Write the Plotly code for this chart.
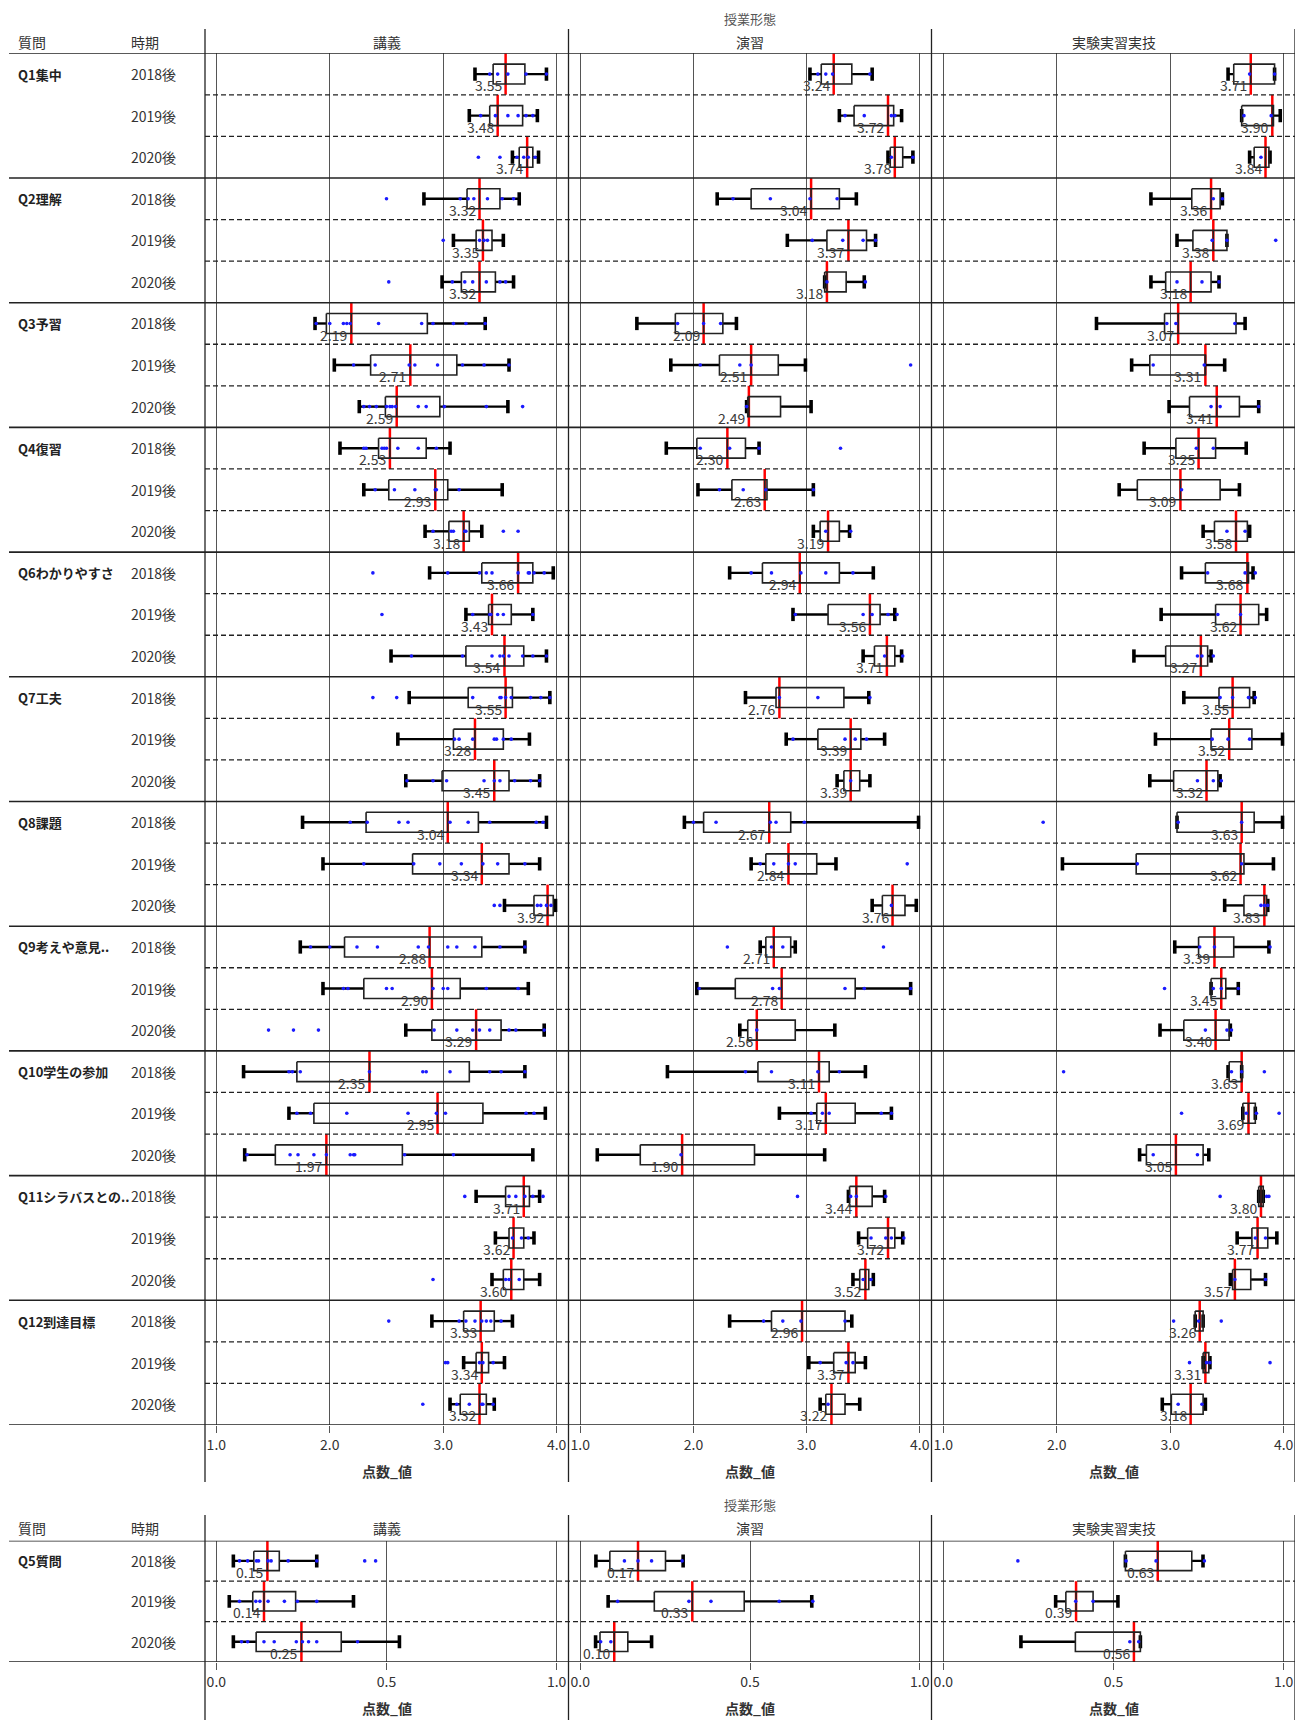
import plotly.graph_objects as go

# page body has an 8px margin, so the figure is drawn 8px in from the top-left corner
OFF = 8
W, H = 1303 - OFF, 1720 - OFF

# ---------------- labels ----------------
panel_names = ["講義", "演習", "実験実習実技"]
periods = ["2018後", "2019後", "2020後"]
questions = ["Q1集中", "Q2理解", "Q3予習", "Q4復習", "Q6わかりやすさ", "Q7工夫",
             "Q8課題", "Q9考えや意見..", "Q10学生の参加", "Q11シラバスとの..", "Q12到達目標"]
q5_name = "Q5質問"
top_ticks = [1.0, 2.0, 3.0, 4.0]
top_ticktext = ["1.0", "2.0", "3.0", "4.0"]
bot_ticks = [0.0, 0.5, 1.0]
bot_ticktext = ["0.0", "0.5", "1.0"]
axis_title = "点数_値"
super_title = "授業形態"

# ---------------- 講義 (top) ----------------
kogi_lo = [3.28, 3.23, 3.61, 2.83, 3.09, 2.99, 1.87, 2.04, 2.26, 2.09, 2.30, 2.84, 2.88, 3.20, 2.54, 2.70,
           2.60, 2.67, 1.76, 1.94, 3.54, 1.74, 1.94, 2.67, 1.24, 1.64, 1.25, 3.29, 3.46, 3.43, 2.90, 3.18, 3.06]
kogi_q1 = [3.44, 3.41, 3.67, 3.21, 3.29, 3.16, 1.97, 2.36, 2.49, 2.43, 2.52, 3.05, 3.34, 3.40, 3.20, 3.22,
           3.09, 2.99, 2.32, 2.73, 3.80, 2.13, 2.30, 2.90, 1.71, 1.86, 1.52, 3.55, 3.58, 3.53, 3.18, 3.29, 3.15]
kogi_med = [3.55, 3.48, 3.74, 3.32, 3.35, 3.32, 2.19, 2.71, 2.59, 2.53, 2.93, 3.18, 3.66, 3.43, 3.54, 3.55,
            3.28, 3.45, 3.04, 3.34, 3.92, 2.88, 2.90, 3.29, 2.35, 2.95, 1.97, 3.71, 3.62, 3.60, 3.33, 3.34, 3.32]
kogi_q3 = [3.72, 3.70, 3.79, 3.50, 3.43, 3.46, 2.86, 3.12, 2.97, 2.85, 3.04, 3.23, 3.79, 3.60, 3.71, 3.61,
           3.53, 3.58, 3.31, 3.58, 3.97, 3.34, 3.15, 3.51, 3.23, 3.35, 2.64, 3.76, 3.71, 3.71, 3.45, 3.40, 3.38]
kogi_hi = [3.91, 3.83, 3.84, 3.67, 3.53, 3.62, 3.37, 3.58, 3.57, 3.06, 3.52, 3.34, 3.97, 3.79, 3.91, 3.94,
           3.76, 3.85, 3.91, 3.85, 3.99, 3.72, 3.75, 3.89, 3.72, 3.90, 3.79, 3.85, 3.80, 3.85, 3.61, 3.54, 3.45]
kogi_dots = [
    [3.41, 3.48, 3.57, 3.73, 3.91],
    [3.33, 3.46, 3.57, 3.66, 3.73, 3.79],
    [3.31, 3.50, 3.65, 3.71, 3.75, 3.81],
    [2.50, 3.15, 3.22, 3.27, 3.39, 3.52, 3.62],
    [3.00, 3.32, 3.36, 3.39],
    [2.52, 3.08, 3.19, 3.26, 3.38, 3.50, 3.55],
    [1.88, 2.00, 2.12, 2.15, 2.18, 2.43, 2.81, 2.91, 3.09, 3.20, 3.37],
    [2.21, 2.40, 2.70, 2.75, 2.95, 3.17, 3.36, 3.58],
    [2.30, 2.35, 2.41, 2.50, 2.53, 2.55, 2.58, 2.78, 2.85, 3.01, 3.38, 3.70],
    [2.30, 2.32, 2.46, 2.48, 2.50, 2.60, 2.78, 2.94],
    [2.40, 2.57, 2.75, 2.93, 2.94, 3.14],
    [2.91, 3.07, 3.09, 3.19, 3.20, 3.53, 3.66],
    [2.38, 3.04, 3.32, 3.38, 3.43, 3.66, 3.75, 3.76, 3.80, 3.89],
    [2.46, 3.26, 3.41, 3.42, 3.48, 3.53, 3.79],
    [2.72, 3.17, 3.43, 3.50, 3.53, 3.58, 3.70, 3.79, 3.91],
    [2.38, 2.59, 3.26, 3.50, 3.51, 3.55, 3.60, 3.77, 3.86, 3.94],
    [3.10, 3.14, 3.26, 3.45, 3.47, 3.53, 3.60],
    [2.68, 2.91, 3.03, 3.36, 3.45, 3.50, 3.63, 3.77, 3.85],
    [2.18, 2.33, 2.61, 2.69, 3.06, 3.22, 3.41, 3.82, 3.88],
    [2.30, 2.74, 2.97, 3.16, 3.35, 3.48, 3.72],
    [3.45, 3.50, 3.83, 3.86, 3.91, 3.95],
    [1.83, 2.00, 2.24, 2.42, 2.78, 2.87, 3.04, 3.12, 3.28, 3.50, 3.72],
    [2.12, 2.16, 2.50, 2.55, 2.91, 3.00, 3.04, 3.38, 3.66],
    [1.46, 1.68, 1.90, 2.92, 3.12, 3.26, 3.32, 3.41, 3.58, 3.64, 3.89],
    [1.64, 1.67, 1.74, 2.35, 2.82, 2.85, 3.06, 3.41, 3.51, 3.72],
    [1.71, 1.83, 2.15, 2.69, 2.94, 3.02, 3.73, 3.80],
    [1.27, 1.65, 1.72, 1.86, 1.97, 2.18, 2.21, 2.22, 2.66, 3.09],
    [3.19, 3.58, 3.64, 3.72, 3.79, 3.88],
    [3.61, 3.69, 3.75],
    [2.91, 3.55, 3.58, 3.67],
    [2.52, 3.14, 3.20, 3.28, 3.34, 3.38, 3.42, 3.51],
    [3.02, 3.04, 3.32, 3.35, 3.44],
    [2.82, 3.12, 3.23, 3.34, 3.35, 3.44],
]

# ---------------- 演習 (top) ----------------
enshu_lo = [3.03, 3.29, 3.72, 2.21, 2.83, 3.16, 1.50, 1.80, 2.47, 1.76, 2.04, 3.06, 2.32, 2.88, 3.50, 2.46,
            2.82, 3.27, 1.92, 2.51, 3.58, 2.59, 2.03, 2.41, 1.77, 2.76, 1.15, 3.37, 3.46, 3.41, 2.32, 3.02, 3.12]
enshu_q1 = [3.13, 3.42, 3.74, 2.51, 3.18, 3.16, 1.84, 2.23, 2.48, 2.03, 2.34, 3.12, 2.61, 3.19, 3.60, 2.73,
            3.10, 3.33, 2.09, 2.64, 3.67, 2.64, 2.37, 2.48, 2.57, 3.09, 1.53, 3.38, 3.54, 3.47, 2.69, 3.24, 3.17]
enshu_med = [3.24, 3.72, 3.78, 3.04, 3.37, 3.18, 2.09, 2.51, 2.49, 2.30, 2.63, 3.19, 2.94, 3.56, 3.71, 2.76,
             3.39, 3.39, 2.67, 2.84, 3.76, 2.71, 2.78, 2.56, 3.11, 3.17, 1.90, 3.44, 3.72, 3.52, 2.96, 3.37, 3.22]
enshu_q3 = [3.40, 3.77, 3.85, 3.29, 3.53, 3.35, 2.26, 2.75, 2.77, 2.46, 2.65, 3.29, 3.29, 3.65, 3.78, 3.33,
            3.48, 3.47, 2.86, 3.09, 3.87, 2.86, 3.43, 2.90, 3.20, 3.43, 2.54, 3.58, 3.78, 3.55, 3.34, 3.43, 3.34]
enshu_hi = [3.58, 3.84, 3.94, 3.44, 3.61, 3.51, 2.38, 2.99, 3.04, 2.58, 3.06, 3.38, 3.59, 3.78, 3.84, 3.55,
            3.69, 3.56, 3.99, 3.26, 3.97, 2.90, 3.92, 3.25, 3.52, 3.75, 3.16, 3.69, 3.85, 3.59, 3.40, 3.52, 3.47]
enshu_dots = [
    [3.10, 3.17, 3.23, 3.56],
    [3.34, 3.51, 3.75, 3.78],
    [3.75, 3.94],
    [2.35, 2.68, 3.03, 3.27],
    [3.05, 3.32, 3.50, 3.61],
    [3.18, 3.52],
    [1.86, 2.09, 2.24],
    [2.06, 2.41, 2.51, 3.92],
    [2.47],
    [2.06, 2.32, 2.58, 3.30],
    [2.23, 2.44, 2.64, 3.06],
    [3.17, 3.39],
    [2.51, 2.69, 2.95, 3.17, 3.41],
    [2.90, 3.50, 3.58, 3.72, 3.80],
    [3.69, 3.85],
    [2.76, 3.10, 3.56],
    [2.88, 3.34, 3.43, 3.53],
    [3.39],
    [2.00, 2.20, 2.68, 2.73, 2.98],
    [2.59, 2.71, 2.84, 2.90, 3.89],
    [3.75],
    [2.30, 2.69, 2.79, 3.68],
    [2.05, 2.70, 2.76, 3.34, 3.51, 3.92],
    [2.56],
    [2.46, 2.69, 3.10, 3.29],
    [3.04, 3.14, 3.20, 3.66, 3.75],
    [1.89],
    [2.92, 3.39, 3.44, 3.70],
    [3.57, 3.70, 3.75, 3.86],
    [3.50, 3.57],
    [2.62, 2.79, 2.95, 3.34],
    [3.12, 3.35, 3.41],
    [3.19],
]

# ---------------- 実験実習実技 (top) ----------------
jikken_lo = [3.51, 3.63, 3.70, 2.83, 3.06, 2.83, 2.35, 2.66, 2.99, 2.77, 2.55, 3.29, 3.10, 2.92, 2.68, 3.12,
             2.87, 2.82, 3.06, 2.05, 3.48, 3.04, 3.36, 2.91, 3.51, 3.64, 2.73, 3.78, 3.59, 3.53, 3.22, 3.29, 2.93]
jikken_q1 = [3.56, 3.63, 3.74, 3.19, 3.20, 2.96, 2.95, 2.82, 3.17, 3.05, 2.71, 3.39, 3.31, 3.40, 2.96, 3.43,
             3.36, 3.03, 3.06, 2.70, 3.65, 3.25, 3.36, 3.12, 3.52, 3.64, 2.79, 3.78, 3.72, 3.55, 3.22, 3.29, 3.01]
jikken_med = [3.71, 3.90, 3.84, 3.36, 3.38, 3.18, 3.07, 3.31, 3.41, 3.25, 3.09, 3.58, 3.68, 3.62, 3.27, 3.55,
              3.52, 3.32, 3.63, 3.62, 3.83, 3.39, 3.45, 3.40, 3.63, 3.69, 3.05, 3.80, 3.77, 3.57, 3.26, 3.31, 3.18]
jikken_q3 = [3.92, 3.91, 3.87, 3.44, 3.50, 3.36, 3.58, 3.31, 3.61, 3.40, 3.44, 3.68, 3.69, 3.78, 3.33, 3.70,
             3.72, 3.42, 3.74, 3.65, 3.85, 3.56, 3.49, 3.52, 3.63, 3.75, 3.29, 3.82, 3.86, 3.71, 3.29, 3.34, 3.29]
jikken_hi = [3.92, 3.97, 3.88, 3.46, 3.50, 3.43, 3.66, 3.48, 3.78, 3.67, 3.61, 3.70, 3.73, 3.85, 3.36, 3.74,
             3.99, 3.44, 3.99, 3.91, 3.86, 3.87, 3.60, 3.53, 3.63, 3.75, 3.34, 3.82, 3.94, 3.84, 3.29, 3.35, 3.31]
jikken_dots = [
    [3.70, 3.92],
    [3.65, 3.89],
    [3.80],
    [3.38, 3.46],
    [3.37, 3.50, 3.93],
    [3.06, 3.28, 3.43],
    [2.97, 3.05, 3.57],
    [2.85, 3.30],
    [3.36, 3.44, 3.78],
    [3.23, 3.38],
    [3.10],
    [3.50, 3.66],
    [3.33, 3.66, 3.75],
    [3.42, 3.62],
    [3.24, 3.28, 3.38],
    [3.44, 3.55, 3.69, 3.75],
    [3.37, 3.51, 3.70],
    [3.24, 3.38, 3.45],
    [1.88, 3.07, 3.63],
    [2.71, 3.63],
    [3.80, 3.83, 3.86],
    [3.26, 3.39, 3.88],
    [2.95, 3.38, 3.45, 3.60],
    [3.31, 3.50, 3.54],
    [2.06, 3.54, 3.63, 3.83],
    [3.10, 3.67, 3.76, 3.96],
    [2.85, 3.24],
    [3.44, 3.85, 3.87],
    [3.75, 3.84],
    [3.57, 3.84],
    [3.03, 3.25, 3.45],
    [3.17, 3.32, 3.35, 3.88],
    [3.07, 3.28],
]

# ---------------- Q5質問 (bottom) ----------------
q5_kogi_lo = [0.05, 0.038, 0.05]
q5_kogi_q1 = [0.11, 0.107, 0.117]
q5_kogi_med = [0.15, 0.14, 0.25]
q5_kogi_q3 = [0.185, 0.233, 0.367]
q5_kogi_hi = [0.295, 0.403, 0.538]
q5_kogi_dots = [
    [0.068, 0.092, 0.118, 0.124, 0.152, 0.161, 0.211, 0.295, 0.436, 0.468],
    [0.068, 0.116, 0.128, 0.152, 0.20, 0.238, 0.295],
    [0.074, 0.092, 0.14, 0.17, 0.235, 0.253, 0.271, 0.295, 0.415],
]
q5_enshu_lo = [0.046, 0.082, 0.045]
q5_enshu_q1 = [0.087, 0.218, 0.058]
q5_enshu_med = [0.17, 0.33, 0.10]
q5_enshu_q3 = [0.251, 0.483, 0.14]
q5_enshu_hi = [0.303, 0.682, 0.21]
q5_enshu_dots = [
    [0.13, 0.17, 0.21, 0.30],
    [0.11, 0.32, 0.385, 0.586, 0.685],
    [0.06, 0.09],
]
q5_jikken_lo = [0.535, 0.33, 0.228]
q5_jikken_q1 = [0.535, 0.36, 0.388]
q5_jikken_med = [0.63, 0.39, 0.56]
q5_jikken_q3 = [0.73, 0.44, 0.579]
q5_jikken_hi = [0.763, 0.513, 0.579]
q5_jikken_dots = [
    [0.219, 0.537, 0.625, 0.767],
    [0.389, 0.44],
    [0.548, 0.574],
]

# ---------------- styling / geometry ----------------
FONT = "Noto Sans CJK JP, Noto Sans, sans-serif"
TXT = "#333333"
LINE = "#222222"
GRID = "#555555"


def px(x):
    return (x - OFF) / W


def py(y):
    return 1 - (y - OFF) / H


panel_x = [(205, 568), (569, 931), (932, 1295)]
TOP_Y = (53.3, 1425.0)
BOT_Y = (1540.7, 1662.0)

fig = go.Figure()
annotations = []
shapes = []


def add_boxes(xr, yr, lo, q1, med, q3, hi, dots, labelfmt):
    rx, ry, wx, wy, cx, cy, bx, by, mx, my, dx, dy = ([] for _ in range(12))
    for i in range(len(med)):
        rx += [med[i], med[i], None]
        ry += [i - 0.5, i + 0.5, None]
        wx += [lo[i], q1[i], None, q3[i], hi[i], None]
        wy += [i, i, None, i, i, None]
        cx += [lo[i], lo[i], None, hi[i], hi[i], None]
        cy += [i - 0.16, i + 0.16, None, i - 0.16, i + 0.16, None]
        bx += [q1[i], q3[i], q3[i], q1[i], q1[i], None]
        by += [i - 0.24, i - 0.24, i + 0.24, i + 0.24, i - 0.24, None]
        mx += [med[i], med[i], None]
        my += [i - 0.24, i + 0.24, None]
        for d in dots[i]:
            dx.append(d)
            dy.append(i)
        annotations.append(dict(
            x=med[i], y=i + 0.27, xref=xr, yref=yr, text=labelfmt.format(med[i]),
            xanchor="right", yanchor="middle", xshift=-2, showarrow=False,
            font=dict(family=FONT, size=14, color="#3a3a3a")))
    common = dict(xaxis=xr, yaxis=yr, hoverinfo="skip", showlegend=False)
    fig.add_trace(go.Scatter(x=rx, y=ry, mode="lines", line=dict(color="#ff0000", width=2.5), **common))
    fig.add_trace(go.Scatter(x=wx, y=wy, mode="lines", line=dict(color="black", width=2.4), **common))
    fig.add_trace(go.Scatter(x=cx, y=cy, mode="lines", line=dict(color="black", width=3.6), **common))
    fig.add_trace(go.Scatter(x=bx, y=by, mode="lines", line=dict(color=LINE, width=1.6), **common))
    fig.add_trace(go.Scatter(x=mx, y=my, mode="lines", line=dict(color=LINE, width=1.6), **common))
    fig.add_trace(go.Scatter(x=dx, y=dy, mode="markers",
                             marker=dict(color="#1a1aff", size=3.6, line=dict(width=0)), **common))


top_data = [
    (kogi_lo, kogi_q1, kogi_med, kogi_q3, kogi_hi, kogi_dots),
    (enshu_lo, enshu_q1, enshu_med, enshu_q3, enshu_hi, enshu_dots),
    (jikken_lo, jikken_q1, jikken_med, jikken_q3, jikken_hi, jikken_dots),
]
bot_data = [
    (q5_kogi_lo, q5_kogi_q1, q5_kogi_med, q5_kogi_q3, q5_kogi_hi, q5_kogi_dots),
    (q5_enshu_lo, q5_enshu_q1, q5_enshu_med, q5_enshu_q3, q5_enshu_hi, q5_enshu_dots),
    (q5_jikken_lo, q5_jikken_q1, q5_jikken_med, q5_jikken_q3, q5_jikken_hi, q5_jikken_dots),
]

n_top = len(questions) * len(periods)
layout_axes = {}
for k in range(3):
    name_t = "xaxis" if k == 0 else f"xaxis{k + 1}"
    name_b = f"xaxis{k + 4}"
    common_ax = dict(showgrid=True, gridcolor=GRID, gridwidth=1, zeroline=False, showline=False,
                     ticks="outside", ticklen=7, tickcolor=GRID, tickwidth=1,
                     tickfont=dict(family=FONT, size=14, color=TXT), fixedrange=True)
    layout_axes[name_t] = dict(domain=[px(panel_x[k][0]), px(panel_x[k][1])], range=[0.9, 4.1],
                               anchor="y", tickvals=top_ticks, ticktext=top_ticktext, **common_ax)
    layout_axes[name_b] = dict(domain=[px(panel_x[k][0]), px(panel_x[k][1])],
                               range=[-0.1 / 3, 1 + 0.1 / 3],
                               anchor="y2", tickvals=bot_ticks, ticktext=bot_ticktext, **common_ax)
layout_axes["yaxis"] = dict(domain=[py(TOP_Y[1]), py(TOP_Y[0])], range=[n_top - 0.5, -0.5],
                            visible=False, fixedrange=True)
layout_axes["yaxis2"] = dict(domain=[py(BOT_Y[1]), py(BOT_Y[0])], range=[len(periods) - 0.5, -0.5],
                             visible=False, fixedrange=True)

for k in range(3):
    xr_t = "x" if k == 0 else f"x{k + 1}"
    lo, q1, med, q3, hi, dots = top_data[k]
    add_boxes(xr_t, "y", lo, q1, med, q3, hi, dots, "{:.2f}")
    lo, q1, med, q3, hi, dots = bot_data[k]
    add_boxes(f"x{k + 4}", "y2", lo, q1, med, q3, hi, dots, "{:.2f}")


def header(ytitle, yhead):
    annotations.append(dict(x=0.5 * (px(panel_x[0][0]) + px(panel_x[2][1])), y=py(ytitle), xref="paper",
                            yref="paper", text=super_title, showarrow=False, xanchor="center",
                            yanchor="middle", font=dict(family=FONT, size=13, color="#555555")))
    for k, nm in enumerate(panel_names):
        annotations.append(dict(x=0.5 * (px(panel_x[k][0]) + px(panel_x[k][1])), y=py(yhead),
                                xref="paper", yref="paper", text=nm, showarrow=False,
                                xanchor="center", yanchor="middle",
                                font=dict(family=FONT, size=14, color=TXT)))
    annotations.append(dict(x=px(16), y=py(yhead), xref="paper", yref="paper", text="質問",
                            showarrow=False, xanchor="left", yanchor="middle",
                            font=dict(family=FONT, size=14, color=TXT)))
    annotations.append(dict(x=px(129), y=py(yhead), xref="paper", yref="paper", text="時期",
                            showarrow=False, xanchor="left", yanchor="middle",
                            font=dict(family=FONT, size=14, color=TXT)))


def axis_titles(yt):
    for k in range(3):
        annotations.append(dict(x=0.5 * (px(panel_x[k][0]) + px(panel_x[k][1])), y=py(yt),
                                xref="paper", yref="paper", text="<b>" + axis_title + "</b>",
                                showarrow=False, xanchor="center", yanchor="middle",
                                font=dict(family=FONT, size=14, color=TXT)))


header(18.6, 41.7)
header(1504, 1528)
axis_titles(1471)
axis_titles(1708)

# row labels
for qi, q in enumerate(questions):
    annotations.append(dict(x=px(16), y=qi * 3, xref="paper", yref="y", text="<b>" + q + "</b>",
                            showarrow=False, xanchor="left", yanchor="middle",
                            font=dict(family=FONT, size=13, color="#222222")))
    for pi, p in enumerate(periods):
        annotations.append(dict(x=px(129), y=qi * 3 + pi, xref="paper", yref="y", text=p,
                                showarrow=False, xanchor="left", yanchor="middle",
                                font=dict(family=FONT, size=14, color=TXT)))
annotations.append(dict(x=px(16), y=0, xref="paper", yref="y2", text="<b>" + q5_name + "</b>",
                        showarrow=False, xanchor="left", yanchor="middle",
                        font=dict(family=FONT, size=13, color="#222222")))
for pi, p in enumerate(periods):
    annotations.append(dict(x=px(129), y=pi, xref="paper", yref="y2", text=p,
                            showarrow=False, xanchor="left", yanchor="middle",
                            font=dict(family=FONT, size=14, color=TXT)))

# separators
for r in range(n_top + 1):
    yv = r - 0.5
    if r % 3 == 0:
        shapes.append(dict(type="line", xref="paper", yref="y", x0=px(9), x1=px(1295), y0=yv, y1=yv,
                           line=dict(color=LINE, width=1.6)))
    else:
        shapes.append(dict(type="line", xref="paper", yref="y", x0=px(205), x1=px(1295), y0=yv, y1=yv,
                           line=dict(color=LINE, width=1.3, dash="5px,3px")))
for r in range(len(periods) + 1):
    yv = r - 0.5
    if r % 3 == 0:
        shapes.append(dict(type="line", xref="paper", yref="y2", x0=px(9), x1=px(1295), y0=yv, y1=yv,
                           line=dict(color=LINE, width=1.6)))
    else:
        shapes.append(dict(type="line", xref="paper", yref="y2", x0=px(205), x1=px(1295), y0=yv, y1=yv,
                           line=dict(color=LINE, width=1.3, dash="5px,3px")))

# panel boundary lines
for xb in [205, 568.5, 931.5, 1295]:
    shapes.append(dict(type="line", xref="paper", yref="paper", x0=px(xb), x1=px(xb),
                       y0=py(29), y1=py(1482), line=dict(color=LINE, width=1.3)))
    shapes.append(dict(type="line", xref="paper", yref="paper", x0=px(xb), x1=px(xb),
                       y0=py(1515), y1=py(1720), line=dict(color=LINE, width=1.3)))

fig.update_layout(
    width=W, height=H, margin=dict(l=0, r=0, t=0, b=0),
    paper_bgcolor="white", plot_bgcolor="white", showlegend=False,
    annotations=annotations, shapes=shapes,
    font=dict(family=FONT, color=TXT),
    **layout_axes,
)

fig.write_html("out.html")
